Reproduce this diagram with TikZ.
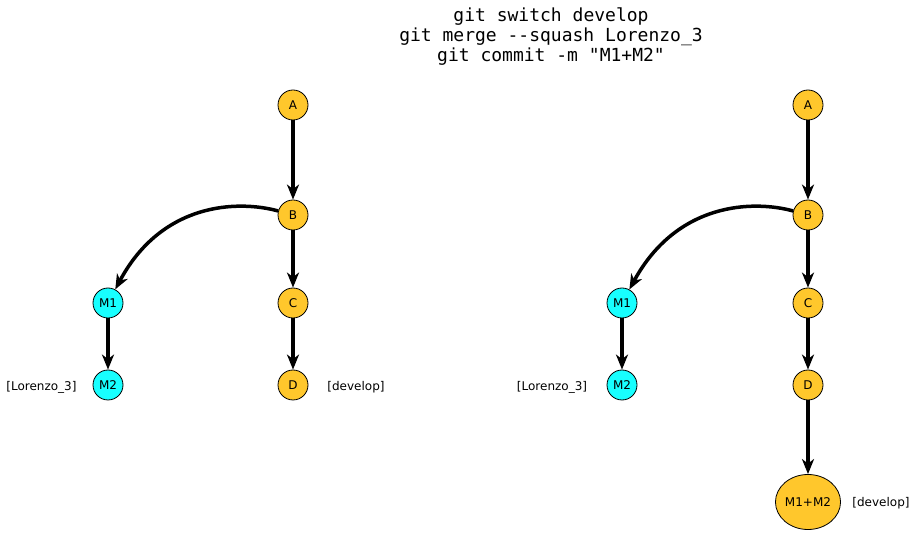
\documentclass[tikz,border=0pt]{standalone}
\usepackage{fontspec}
\setmainfont{DejaVu Sans}
\newfontfamily\titlefont{DejaVu Sans Mono}
\usetikzlibrary{arrows.meta,shapes.geometric}
\definecolor{gold}{RGB}{255,199,44}
\definecolor{cy}{RGB}{24,255,255}
\begin{document}
\begin{tikzpicture}[x=1pt,y=-1pt,
  commit/.style={circle,draw=black,line width=0.8pt,minimum size=30pt,inner sep=0pt,font=\fontsize{12}{14}\selectfont},
  main/.style={commit,fill=gold},
  side/.style={commit,fill=cy},
  edge/.style={line width=3.5pt,-{Stealth[length=15pt,width=12pt,inset=4.5pt]}},
  lbl/.style={font=\fontsize{12}{14}\selectfont}]
\useasboundingbox (0,0) rectangle (919,534);
\node[font=\titlefont\fontsize{18}{20}\selectfont,align=center] (title) at (551,37)
  {git switch develop\\git merge --squash Lorenzo\_3\\git commit -m "M1+M2"};
% left graph
\node[main] (A1) at (293,105) {A};
\node[main] (B1) at (293,215) {B};
\node[main] (C1) at (293,303) {C};
\node[main] (D1) at (293,385) {D};
\node[side] (M11) at (108,303) {M1};
\node[side] (M21) at (108,385) {M2};
\node[lbl] (L1) at (41.5,387) {[Lorenzo\_3]};
\node[lbl] (dev1) at (356,387) {[develop]};
\draw[edge] (A1) -- (B1);
\draw[edge] (B1) -- (C1);
\draw[edge] (C1) -- (D1);
\draw[edge] (M11) -- (M21);
\draw[edge] (B1) .. controls (238,200) and (162,202) .. (M11);
% right graph
\node[main] (A2) at (808,105) {A};
\node[main] (B2) at (808,215) {B};
\node[main] (C2) at (808,303) {C};
\node[main] (D2) at (808,385) {D};
\node[side] (M12) at (622,303) {M1};
\node[side] (M22) at (622,385) {M2};
\node[ellipse,draw=black,line width=0.8pt,fill=gold,minimum width=57pt,minimum height=55pt,inner sep=0pt,font=\fontsize{12}{14}\selectfont] (S2) at (808,502) {M1+M2};
\node[lbl] (L2) at (552,387) {[Lorenzo\_3]};
\node[lbl] (dev2) at (881,503) {[develop]};
\draw[edge] (A2) -- (B2);
\draw[edge] (B2) -- (C2);
\draw[edge] (C2) -- (D2);
\draw[edge] (D2) -- (S2);
\draw[edge] (M12) -- (M22);
\draw[edge] (B2) .. controls (753,200) and (677,202) .. (M12);
\end{tikzpicture}
\end{document}
